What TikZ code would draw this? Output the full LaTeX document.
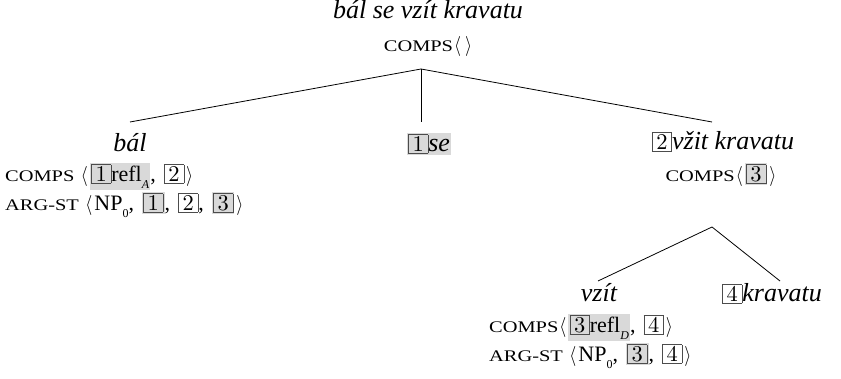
\RequirePackage{fix-cm}
\documentclass[tikz,border=0pt]{standalone}
\usepackage[no-math]{fontspec}
\setmainfont{Liberation Serif}
\newfontfamily\digitfont{lmroman10-regular.otf}
\definecolor{shade}{gray}{0.85}
\definecolor{tagline}{gray}{0.3}
% feature rows, italic node labels
\newcommand\ftr{\fontsize{22}{25}\selectfont}
\newcommand\lbl{\fontsize{26}{30}\selectfont\itshape}
% feature names in wide small capitals
\newcommand\fn[1]{\scalebox{1.26}[1]{\fontsize{16.2}{18}\selectfont #1}}
% boxed index tag
\newcommand\tg[1]{{\setlength\fboxsep{1pt}\setlength\fboxrule{0.6pt}\color{tagline}\fbox{\color{black}\makebox[17pt]{\rule{0pt}{16pt}\digitfont\fontsize{22.5}{25}\selectfont #1}}}}
% shaded material
\newcommand\sh[1]{{\setlength\fboxsep{1.2pt}\colorbox{shade}{#1}}}
% lowered subscript
\newcommand\sub[1]{\raisebox{-7pt}{\fontsize{12}{13}\selectfont #1}}
% list separator
\newcommand\cm{,\hspace{8pt}}
% tall angle brackets
\newcommand\la{\hspace{1pt}\resizebox*{7pt}{20pt}{$\langle$}\hspace{2pt}}
\newcommand\ra{\hspace{2pt}\resizebox*{7pt}{20pt}{$\rangle$}}
\begin{document}
\begin{tikzpicture}[x=1pt,y=-1pt,
  lbl/.style={inner sep=0pt, anchor=base, font=\lbl},
  feat/.style={inner sep=0pt, anchor=base, font=\ftr},
  row/.style={inner sep=0pt, anchor=base west, font=\ftr},
  branch/.style={line width=0.8pt}]
\useasboundingbox (0,0) rectangle (841,379);

% mother node
\node[lbl] (root) at (428,19) {bál se vzít kravatu};
\node[feat] (rootc) at (428,52) {\fn{COMPS}\la\ra};
\coordinate (apex) at (421,69);

% daughters of the root
\coordinate (bal-top) at (130,122);
\coordinate (se-top) at (421,122);
\coordinate (vp-top) at (712,122);

\node[lbl] (bal) at (130,152) {bál};
\node[row] (balc) at (5,182) {\fn{COMPS} \la\sh{\tg{1}refl\sub{\textit{A}}}\cm\tg{2}\ra};
\node[row] (bala) at (5,211) {\fn{ARG-ST} \la NP\sub{0}\cm\sh{\tg{1}}\cm\tg{2}\cm\sh{\tg{3}}\ra};

\node[lbl] (se) at (429,152) {\sh{\tg{1}se}};

\node[lbl] (vp) at (723,150) {\tg{2}vžit kravatu};
\node[feat] (vpc) at (721,182) {\fn{COMPS}\la\sh{\tg{3}}\ra};
\coordinate (vp-apex) at (712,227);

% daughters of the verb phrase
\coordinate (vzit-top) at (598,281);
\coordinate (krav-top) at (780,281);

\node[lbl] (vzit) at (599,302) {vzít};
\node[row] (vzitc) at (489,333) {\fn{COMPS}\la\sh{\tg{3}refl\sub{\textit{D}}}\cm\tg{4}\ra};
\node[row] (vzita) at (489,362) {\fn{ARG-ST} \la NP\sub{0}\cm\sh{\tg{3}}\cm\tg{4}\ra};
\node[lbl, anchor=base west] (krav) at (722,302) {\tg{4}kravatu};

% branches
\draw[branch] (apex) -- (bal-top);
\draw[branch] (apex) -- (se-top);
\draw[branch] (apex) -- (vp-top);
\draw[branch] (vp-apex) -- (vzit-top);
\draw[branch] (vp-apex) -- (krav-top);
\end{tikzpicture}
\end{document}
